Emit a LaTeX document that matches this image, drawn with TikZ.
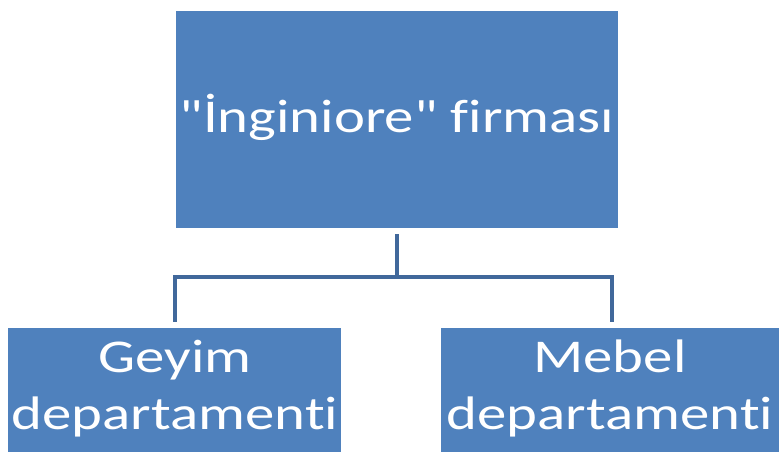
\documentclass[tikz,border=0pt]{standalone}
\usepackage{fontspec}
\newfontfamily\calibri{Carlito}[FakeStretch=1.25, Ligatures=NoCommon]
\begin{document}
\begin{tikzpicture}[x=1pt,y=1pt,
  boxnode/.style={fill=boxblue, draw=none, inner sep=0pt},
  lbl/.style={text=white, font=\calibri\fontsize{47}{57}\selectfont, inner sep=0pt, align=center},
  conn/.style={draw=lineblue, line width=4pt}]
\definecolor{boxblue}{HTML}{4F81BD}
\definecolor{lineblue}{HTML}{41689B}
\useasboundingbox (0,0) rectangle (779,452);
\begin{scope}
\clip (0,0) rectangle (779,452);
% top box: x 176..618, y 11..228
\node[boxnode, minimum width=442, minimum height=217] (top) at (397,332.5) {};
\node[lbl, anchor=base] (toptext) at (397,319) {"İnginiore" firması};
% left box: x 8..341, y 328..
\node[boxnode, minimum width=333, minimum height=160, anchor=north] (left) at (174.5,124) {};
\node[lbl, anchor=base] (lefttext) at (175,22) {Geyim\\departamenti};
% right box: x 441..783
\node[boxnode, minimum width=342, minimum height=160, anchor=north] (right) at (612,124) {};
\node[lbl, anchor=base] (righttext) at (610,22) {Mebel\\departamenti};
% connectors
\coordinate (j) at (397,175);
\draw[conn] ([yshift=-6pt]top.south) -- (j);
\draw[conn] (j) -| ([yshift=6pt]left.north);
\draw[conn] (j) -| ([yshift=6pt]right.north);
\end{scope}
\end{tikzpicture}
\end{document}
